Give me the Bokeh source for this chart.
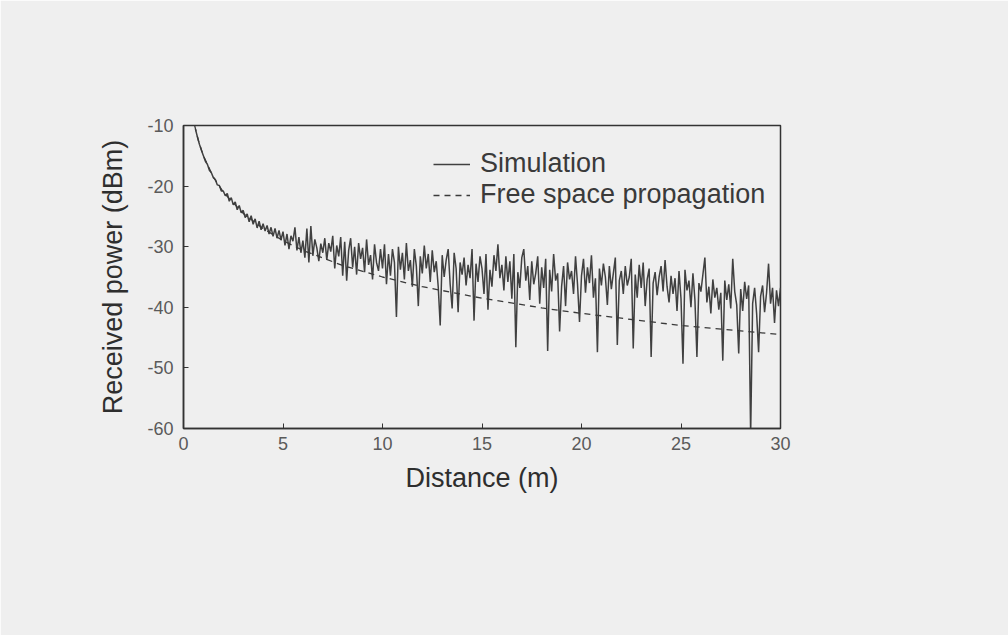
from bokeh.plotting import figure
from bokeh.models import Range1d, FixedTicker, Legend, LegendItem
from bokeh.embed import file_html
from bokeh.resources import INLINE

# ---- data ----
x_ticks = [0, 5, 10, 15, 20, 25, 30]
y_ticks = [-60, -50, -40, -30, -20, -10]
y_tick_labels = ["-60", "-50", "-40", "-30", "-20", "-10"]

sim_start = 0.6
sim_step = 0.1
sim_power = [
    -10.6, -11.9, -13.1, -14.1,
    -15.0, -15.9, -16.4, -17.4, -17.8, -18.6, -18.9, -19.8, -19.9, -20.8,
    -20.8, -21.6, -21.2, -22.5, -21.9, -23.1, -22.6, -23.9, -23.2, -24.4,
    -24.0, -25.2, -24.6, -25.9, -24.9, -26.3, -25.4, -26.9, -25.8, -27.2,
    -26.2, -27.4, -26.5, -27.9, -26.8, -28.3, -27.0, -28.6, -27.3, -28.9,
    -27.5, -29.8, -27.9, -30.4, -28.2, -29.1, -26.8, -30.6, -28.4, -31.0,
    -29.0, -31.8, -27.0, -32.6, -26.6, -31.5, -28.8, -30.2, -32.4, -29.5,
    -31.0, -28.6, -32.2, -29.4, -30.8, -28.2, -33.6, -29.8, -31.6, -28.4,
    -34.8, -29.2, -35.6, -30.6, -28.6, -33.4, -30.0, -34.6, -29.4, -32.0,
    -30.2, -34.2, -28.8, -33.0, -31.4, -35.4, -29.6, -32.6, -34.0, -30.4,
    -33.6, -29.6, -36.2, -31.2, -34.8, -30.4, -32.6, -41.6, -30.0, -33.8,
    -31.0, -35.4, -29.4, -34.0, -32.2, -36.6, -30.4, -33.2, -39.8, -31.6,
    -34.4, -29.8, -33.6, -31.2, -35.8, -30.6, -34.2, -32.4, -36.6, -43.0,
    -31.4, -35.0, -32.2, -30.4, -36.2, -40.2, -31.0, -33.6, -40.8, -32.6,
    -34.6, -31.8, -36.4, -33.0, -35.2, -30.4, -42.2, -32.8, -35.8, -31.6,
    -33.6, -37.8, -31.2, -40.4, -33.8, -36.6, -31.4, -34.0, -29.6, -35.2,
    -33.0, -37.2, -31.6, -35.8, -32.4, -38.6, -31.2, -46.6, -34.2, -36.8,
    -31.8, -30.4, -35.6, -33.2, -38.8, -32.4, -36.2, -34.4, -31.6, -39.4,
    -33.4, -36.8, -32.0, -47.2, -33.8, -37.4, -31.2, -35.6, -34.4, -44.0,
    -36.6, -33.2, -39.8, -32.6, -35.4, -34.0, -37.8, -31.6, -36.2, -42.4,
    -34.8, -32.0, -37.6, -33.4, -36.0, -31.4, -38.4, -35.2, -47.4, -33.6,
    -36.4, -32.8, -35.0, -39.6, -33.2, -37.0, -34.4, -31.8, -46.2, -35.6,
    -34.0, -37.8, -33.2, -36.4, -35.0, -32.0, -46.8, -34.6, -38.4, -33.0,
    -36.8, -32.6, -39.8, -35.4, -33.6, -48.2, -36.0, -34.2, -38.0, -35.0,
    -33.2, -37.4, -32.2, -36.6, -39.2, -34.8, -37.8, -35.2, -40.6, -34.0,
    -38.6, -49.3, -33.8, -37.2, -35.6, -40.0, -34.4, -38.8, -48.2, -36.0,
    -37.4, -34.6, -31.8, -39.2, -36.6, -41.0, -35.4, -38.4, -36.8, -40.4,
    -37.6, -48.8, -35.6, -38.8, -36.2, -40.2, -32.0, -37.4, -39.6, -47.6,
    -37.0, -40.6, -35.8, -38.6, -36.4, -61.0, -39.4, -36.8, -41.0, -47.4,
    -38.2, -36.4, -40.8, -37.6, -32.8, -39.4, -36.8, -42.6, -37.2, -39.8,
    -36.8,
]
sim_distance = [round(sim_start + sim_step * i, 1) for i in range(len(sim_power))]

fs_distance = [0.56, 0.75, 1, 1.5, 2, 3, 4, 5, 6, 8, 10, 12, 15, 18, 20, 22, 25, 28, 30]
fs_power = [-10.0, -12.5, -15.0, -18.5, -21.0, -24.5, -27.0, -29.0, -30.6, -33.1,
            -35.0, -36.6, -38.5, -40.1, -41.0, -41.8, -43.0, -43.9, -44.5]

FONT = "Liberation Sans"
BG = "#efefef"

p = figure(width=1008, height=635, output_backend="svg", toolbar_location=None,
           x_range=Range1d(0, 30), y_range=Range1d(-60, -10),
           min_border_left=183, min_border_right=228,
           min_border_top=125, min_border_bottom=207)
p.background_fill_color = BG
p.border_fill_color = BG
p.outline_line_color = "#333333"
p.outline_line_width = 1.5
p.xgrid.visible = False
p.ygrid.visible = False

for ax, ticks in ((p.xaxis[0], x_ticks), (p.yaxis[0], y_ticks)):
    ax.ticker = FixedTicker(ticks=ticks)
    ax.minor_tick_line_color = None
    ax.major_tick_in = 5
    ax.major_tick_out = 0
    ax.axis_line_color = "#333333"
    ax.axis_line_width = 1.5
    ax.major_tick_line_color = "#333333"
    ax.major_label_text_font = FONT
    ax.major_label_text_font_size = "18px"
    ax.major_label_text_color = "#5a5a5a"
    ax.axis_label_text_font = FONT
    ax.axis_label_text_font_size = "27px"
    ax.axis_label_text_font_style = "normal"
    ax.axis_label_text_color = "#2e2e2e"

p.yaxis.major_label_overrides = dict(zip(y_ticks, y_tick_labels))
p.xaxis.axis_label = "Distance (m)"
p.yaxis.axis_label = "Received power (dBm)"
p.xaxis.major_label_standoff = 8
p.xaxis.axis_label_standoff = 10
p.yaxis.major_label_standoff = 10
p.yaxis.axis_label_standoff = 16

r_sim = p.line(sim_distance, sim_power, line_color="#404040", line_width=1.5)
r_fs = p.line(fs_distance, fs_power, line_color="#3a3a3a", line_width=1.3,
              line_dash="6 5")

legend = Legend(items=[LegendItem(label="Simulation", renderers=[r_sim]),
                       LegendItem(label="Free space propagation", renderers=[r_fs])],
                location=(250, 218))
legend.background_fill_alpha = 0
legend.border_line_color = None
legend.label_text_font = FONT
legend.label_text_font_size = "27px"
legend.label_text_color = "#3a3a3a"
legend.glyph_width = 37
legend.label_standoff = 10
legend.spacing = 0
legend.padding = 0
legend.margin = 0
p.add_layout(legend)

open("out.html", "w").write(file_html(p, INLINE))
